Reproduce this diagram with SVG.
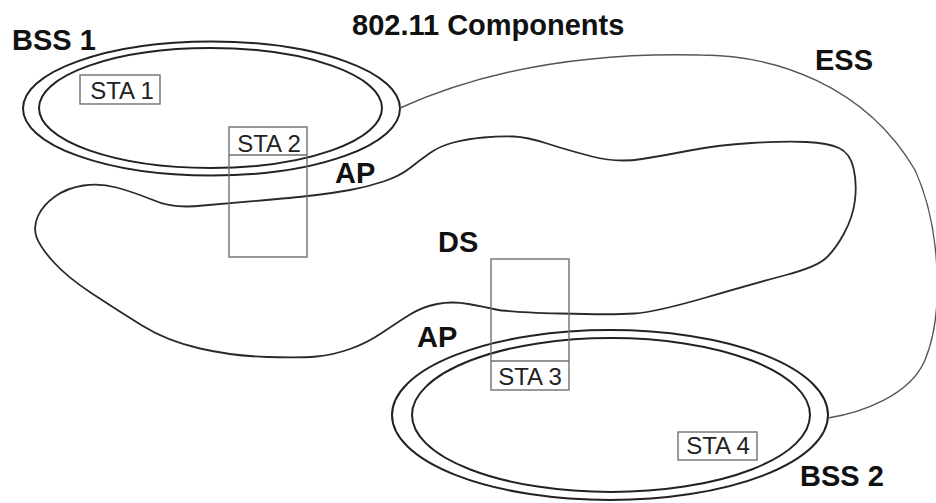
<svg xmlns="http://www.w3.org/2000/svg" width="936" height="503" viewBox="0 0 936 503">
<style>
.bg{fill:#ffffff}
.lbl{font-family:"Liberation Sans",Arial,Helvetica,sans-serif;font-weight:bold;font-size:29px;fill:#111}
.sta{font-family:"Liberation Sans",Arial,Helvetica,sans-serif;font-size:24px;fill:#222;text-anchor:middle}
.ring{fill:none;stroke:#222;stroke-width:2}
.box{fill:none;stroke:#707070;stroke-width:1.4}
.ds{fill:none;stroke:#2a2a2a;stroke-width:1.8;stroke-linejoin:round}
.ess{fill:none;stroke:#555;stroke-width:1.4}
</style>
<rect class="bg" x="0" y="0" width="936" height="503"/>
<g id="title"><text class="lbl" x="352" y="35">802.11 Components</text></g>
<g id="ds">
<path class="ds" d="M 36.5 237 Q 33 227 38 216 Q 43 205 55 196.5 Q 67 188 83.5 185.5 Q 100 183 116.5 187.5 Q 133 192 153 200 Q 173 209 203 205.5 Q 233 203 266.5 200 Q 300 197 316.5 195 Q 333 193 350 190 Q 367 187 383.5 181.5 Q 400 176 410 168 Q 420 160 430 153 Q 440 146 453.5 142.5 Q 467 139 483.5 137.5 Q 500 136 513.5 136.5 Q 527 137 547 143.5 Q 567 150 592 156.5 Q 617 163 642 159 Q 667 155 692.5 150 Q 718 145 751.5 143 Q 785 141 806.5 142 Q 828 143 839 148 Q 850 153 853.5 168 Q 857 183 855 200 Q 853 217 844 233.5 Q 835 250 825.5 258.5 Q 816 267 786 275 Q 756 283 706 297.5 Q 656 312 634.5 313.5 Q 613 315 560 313.5 Q 507 312 496 309.5 Q 485 307 468.5 304 Q 452 301 437 304 Q 422 307 410 314.5 Q 398 322 382.5 332.5 Q 367 343 350 349 Q 333 355 316.5 356.5 Q 300 358 266.5 357 Q 233 356 200 348.5 Q 167 341 142 325.5 Q 117 310 92 293.5 Q 67 277 53.5 262 Q 40 247 36.5 237 Z"/>
<text class="lbl" x="438" y="252">DS</text>
</g>
<g id="bss1">
<ellipse class="ring" cx="211.5" cy="108.5" rx="188.5" ry="67"/>
<ellipse class="ring" cx="210.5" cy="108" rx="171.5" ry="60"/>
<text class="lbl" x="12" y="50">BSS 1</text>
</g>
<g id="bss2">
<ellipse class="ring" cx="610" cy="415" rx="218" ry="85"/>
<ellipse class="ring" cx="611" cy="415" rx="199" ry="77"/>
<text class="lbl" x="800" y="486">BSS 2</text>
</g>
<g id="sta1">
<rect class="box" x="80" y="75" width="80" height="29"/>
<text class="sta" x="122" y="99">STA 1</text>
</g>
<g id="sta2">
<rect class="box" x="229" y="127" width="78" height="130"/>
<line class="box" x1="229" y1="155" x2="307" y2="155"/>
<text class="sta" x="269" y="152">STA 2</text>
</g>
<g id="ap1"><text class="lbl" x="335" y="183">AP</text></g>
<g id="sta3">
<rect class="box" x="491" y="259" width="78" height="131"/>
<line class="box" x1="491" y1="361" x2="569" y2="361"/>
<text class="sta" x="530" y="385">STA 3</text>
</g>
<g id="ap2"><text class="lbl" x="417" y="347">AP</text></g>
<g id="sta4">
<rect class="box" x="678" y="432" width="79" height="28"/>
<text class="sta" x="718" y="454">STA 4</text>
</g>
<g id="connectors">
<path class="ess" d="M 400 108 C 480 72, 580 52, 700 55 C 775 55, 865 85, 915 170 C 940 225, 945 312, 925 360 C 910 396, 860 413, 828 418"/>
</g>
<g id="ess"><text class="lbl" x="815" y="70">ESS</text></g>
</svg>
